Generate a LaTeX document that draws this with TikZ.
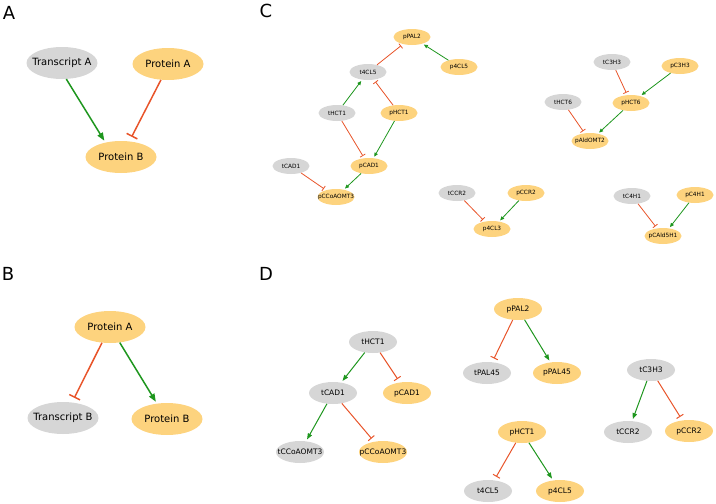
\documentclass[tikz,border=0pt]{standalone}
\usepackage{fontspec}
\setmainfont{DejaVu Sans}
\usetikzlibrary{shapes.geometric,arrows.meta}
\definecolor{orng}{RGB}{253,211,126}
\definecolor{gry}{RGB}{214,214,214}
\definecolor{grn}{RGB}{30,150,30}
\definecolor{rd}{RGB}{232,84,42}
\newcommand{\mk}[1]{\makebox[0pt]{#1}}
\tikzset{
  x=1pt,y=-1pt,
  ell/.style={ellipse,inner sep=0pt,draw=none,text=black},
  bigO/.style={ell,fill=orng,minimum width=71pt,minimum height=32pt,font=\fontsize{10}{12}\selectfont},
  bigG/.style={ell,fill=gry,minimum width=71pt,minimum height=32pt,font=\fontsize{10}{12}\selectfont},
  smO/.style={ell,fill=orng,minimum width=37pt,minimum height=16pt,font=\fontsize{5.8}{7}\selectfont},
  smG/.style={ell,fill=gry,minimum width=37pt,minimum height=16pt,font=\fontsize{5.8}{7}\selectfont},
  mdO/.style={ell,fill=orng,minimum width=48pt,minimum height=22pt,font=\fontsize{7.5}{9}\selectfont},
  mdG/.style={ell,fill=gry,minimum width=48pt,minimum height=22pt,font=\fontsize{7.5}{9}\selectfont},
  panel/.style={font=\fontsize{18}{20}\selectfont,inner sep=0pt},
  actA/.style={draw=grn,line width=1.5pt,-{Triangle[length=8pt,width=6pt]},shorten >=2pt},
  inhA/.style={draw=rd,line width=1.5pt,-{Bar[width=12pt,line width=1.5pt]},shorten >=5pt},
  actC/.style={draw=grn,line width=0.8pt,-{Triangle[length=4pt,width=3.5pt]},shorten >=1.5pt},
  inhC/.style={draw=rd,line width=0.8pt,-{Bar[width=6pt,line width=0.8pt]},shorten >=2.5pt},
  actD/.style={draw=grn,line width=1pt,-{Triangle[length=6pt,width=4.5pt]},shorten >=2pt},
  inhD/.style={draw=rd,line width=1pt,-{Bar[width=8pt,line width=1pt]},shorten >=4pt},
}
\begin{document}
\begin{tikzpicture}
\useasboundingbox (0,0) rectangle (716,504);
% Panel labels
\node[panel] (labA) at (9,13) {A};
\node[panel] (labB) at (8,274) {B};
\node[panel] (labC) at (266,11) {C};
\node[panel] (labD) at (266,274) {D};
% Panel A
\node[bigG] (ta) at (62,63) {\mk{Transcript A}};
\node[bigO] (pa) at (168,64) {\mk{Protein A}};
\node[bigO] (pb) at (121,157) {\mk{Protein B}};
\draw[actA] (ta.-75) -- (pb.137);
\draw[inhA] (pa.-114) -- (pb.62);
% Panel B
\node[bigO] (bpa) at (110,327) {\mk{Protein A}};
\node[bigG] (tb) at (63,418) {\mk{Transcript B}};
\node[bigO] (bpb) at (167,419) {\mk{Protein B}};
\draw[inhA] (bpa.-117) -- (tb.60);
\draw[actA] (bpa.-58) -- (bpb.123);
% Panel C
\node[smO] (cpPAL2) at (412,37) {\mk{pPAL2}};
\node[smG] (ct4CL5) at (368,72) {\mk{t4CL5}};
\node[smO] (cp4CL5) at (459,67) {\mk{p4CL5}};
\node[smG] (ctHCT1) at (337,113) {\mk{tHCT1}};
\node[smO] (cpHCT1) at (399,113) {\mk{pHCT1}};
\node[smO] (cpCAD1) at (369,166) {\mk{pCAD1}};
\node[smG] (ctCAD1) at (291,166) {\mk{tCAD1}};
\node[smO] (cpCCoAOMT3) at (336,197) {\mk{pCCoAOMT3}};
\node[smG] (ctC3H3) at (612,62) {\mk{tC3H3}};
\node[smO] (cpC3H3) at (680,66) {\mk{pC3H3}};
\node[smG] (ctHCT6) at (563,102) {\mk{tHCT6}};
\node[smO] (cpHCT6) at (631,103) {\mk{pHCT6}};
\node[smO] (cpAldOMT2) at (590,141) {\mk{pAldOMT2}};
\node[smG] (ctCCR2) at (457,193) {\mk{tCCR2}};
\node[smO] (cpCCR2) at (526,193) {\mk{pCCR2}};
\node[smO] (cp4CL3) at (492,229) {\mk{p4CL3}};
\node[smG] (ctC4H1) at (632,196) {\mk{tC4H1}};
\node[smO] (cpC4H1) at (695,195) {\mk{pC4H1}};
\node[smO] (cpCAld5H1) at (663,236) {\mk{pCAld5H1}};
\draw[inhC] (ct4CL5) -- (cpPAL2);
\draw[actC] (cp4CL5) -- (cpPAL2);
\draw[actC] (ctHCT1) -- (ct4CL5);
\draw[inhC] (cpHCT1) -- (ct4CL5);
\draw[inhC] (ctHCT1) -- (cpCAD1);
\draw[actC] (cpHCT1) -- (cpCAD1);
\draw[inhC] (ctCAD1) -- (cpCCoAOMT3);
\draw[actC] (cpCAD1) -- (cpCCoAOMT3);
\draw[inhC] (ctC3H3) -- (cpHCT6);
\draw[actC] (cpC3H3) -- (cpHCT6);
\draw[inhC] (ctHCT6) -- (cpAldOMT2);
\draw[actC] (cpHCT6) -- (cpAldOMT2);
\draw[inhC] (ctCCR2) -- (cp4CL3);
\draw[actC] (cpCCR2) -- (cp4CL3);
\draw[inhC] (ctC4H1) -- (cpCAld5H1);
\draw[actC] (cpC4H1) -- (cpCAld5H1);
% Panel D
\node[mdG] (dtHCT1) at (373,342) {\mk{tHCT1}};
\node[mdG] (dtCAD1) at (333,393) {\mk{tCAD1}};
\node[mdO] (dpCAD1) at (407,393) {\mk{pCAD1}};
\node[mdG] (dtCCoAOMT3) at (300,452) {\mk{tCCoAOMT3}};
\node[mdO] (dpCCoAOMT3) at (383,452) {\mk{pCCoAOMT3}};
\node[mdO] (dpPAL2) at (518,309) {\mk{pPAL2}};
\node[mdG] (dtPAL45) at (487,373) {\mk{tPAL45}};
\node[mdO] (dpPAL45) at (557,373) {\mk{pPAL45}};
\node[mdO] (dpHCT1) at (522,432) {\mk{pHCT1}};
\node[mdG] (dt4CL5) at (488,491) {\mk{t4CL5}};
\node[mdO] (dp4CL5) at (560,491) {\mk{p4CL5}};
\node[mdG] (dtC3H3) at (651,370) {\mk{tC3H3}};
\node[mdG] (dtCCR2) at (628,432) {\mk{tCCR2}};
\node[mdO] (dpCCR2) at (689,431) {\mk{pCCR2}};
\draw[actD] (dtHCT1) -- (dtCAD1);
\draw[inhD] (dtHCT1) -- (dpCAD1);
\draw[actD] (dtCAD1) -- (dtCCoAOMT3);
\draw[inhD] (dtCAD1) -- (dpCCoAOMT3);
\draw[inhD] (dpPAL2) -- (dtPAL45);
\draw[actD] (dpPAL2) -- (dpPAL45);
\draw[inhD] (dpHCT1) -- (dt4CL5);
\draw[actD] (dpHCT1) -- (dp4CL5);
\draw[actD] (dtC3H3) -- (dtCCR2);
\draw[inhD] (dtC3H3) -- (dpCCR2);
\end{tikzpicture}
\end{document}
